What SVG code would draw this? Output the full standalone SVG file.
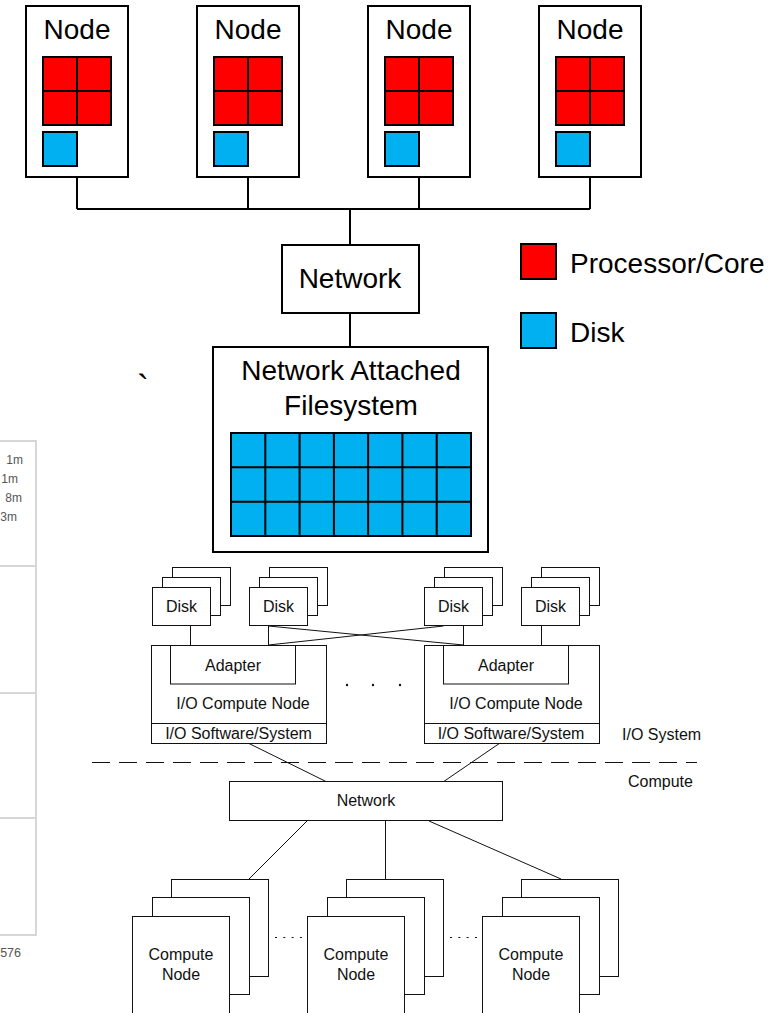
<svg xmlns="http://www.w3.org/2000/svg" width="768" height="1013" viewBox="0 0 768 1013">
  <style>
    .box { fill: #fff; stroke: #000; stroke-width: 2; }
    .red { fill: #ff0000; stroke: #000; stroke-width: 2; }
    .blue { fill: #00b0f0; stroke: #000; stroke-width: 2; }
    .grid { stroke: #000; stroke-width: 2; fill: none; }
    .wire { stroke: #000; stroke-width: 2; fill: none; }
    .tbox { fill: #fff; stroke: #111; stroke-width: 1; }
    .tline { stroke: #111; stroke-width: 1; fill: none; }
    .big { font-family: "Liberation Sans", Arial, sans-serif; font-size: 28px; fill: #000; }
    .small { font-family: "Liberation Sans", Arial, sans-serif; font-size: 16px; fill: #111; }
    .disk { font-family: "Liberation Sans", Arial, sans-serif; font-size: 16px; fill: #111; }
    .mid { text-anchor: middle; }
    .frame { stroke: #d6d6d6; stroke-width: 2; fill: none; }
    .frametxt { font-family: "Liberation Sans", Arial, sans-serif; font-size: 12px; fill: #555; text-anchor: end; }
  </style>

  <!-- cropped table fragment on the left edge -->
  <g id="table-fragment">
    <path class="frame" d="M0 441 H36 V935 H0 M0 566 H36 M0 693 H36 M0 818 H36"/>
    <text class="frametxt" x="23" y="464">1m</text>
    <text class="frametxt" x="18" y="483">1m</text>
    <text class="frametxt" x="22" y="502">8m</text>
    <text class="frametxt" x="17" y="521">3m</text>
    <text class="frametxt" x="21" y="957" style="font-size:12.5px">576</text>
  </g>

  <!-- upper cluster: connectors -->
  <g id="cluster-connectors">
    <path class="wire" d="M77 177 V209 M248 177 V209 M419 177 V209 M590 177 V209 M77 209 H590 M350 209 V245 M350 313 V347"/>
  </g>

  <!-- compute nodes of the cluster -->
  <g id="node-1">
    <rect class="box" x="26" y="6" width="102" height="171"/>
    <text class="big mid" x="77" y="39">Node</text>
    <rect class="red" x="43" y="57" width="68" height="68"/>
    <path class="grid" d="M77 57 V125 M43 91 H111"/>
    <rect class="blue" x="43" y="132" width="34" height="34"/>
  </g>
  <g id="node-2">
    <rect class="box" x="197" y="6" width="102" height="171"/>
    <text class="big mid" x="248" y="39">Node</text>
    <rect class="red" x="214" y="57" width="68" height="68"/>
    <path class="grid" d="M248 57 V125 M214 91 H282"/>
    <rect class="blue" x="214" y="132" width="34" height="34"/>
  </g>
  <g id="node-3">
    <rect class="box" x="368" y="6" width="102" height="171"/>
    <text class="big mid" x="419" y="39">Node</text>
    <rect class="red" x="385" y="57" width="68" height="68"/>
    <path class="grid" d="M419 57 V125 M385 91 H453"/>
    <rect class="blue" x="385" y="132" width="34" height="34"/>
  </g>
  <g id="node-4">
    <rect class="box" x="539" y="6" width="102" height="171"/>
    <text class="big mid" x="590" y="39">Node</text>
    <rect class="red" x="556" y="57" width="68" height="68"/>
    <path class="grid" d="M590 57 V125 M556 91 H624"/>
    <rect class="blue" x="556" y="132" width="34" height="34"/>
  </g>

  <g id="network-top">
    <rect class="box" x="282" y="245" width="137" height="68"/>
    <text class="big mid" x="350" y="288">Network</text>
  </g>

  <g id="nas">
    <rect class="box" x="213" y="347" width="275" height="205"/>
    <text class="big mid" x="351" y="380">Network Attached</text>
    <text class="big mid" x="351" y="415">Filesystem</text>
    <rect class="blue" x="231" y="433" width="240" height="103"/>
    <path class="grid" d="M265.3 433 V536 M299.6 433 V536 M333.9 433 V536 M368.1 433 V536 M402.4 433 V536 M436.7 433 V536 M231 467.3 H471 M231 501.7 H471"/>
  </g>

  <g id="legend">
    <rect class="red" x="521" y="244" width="35" height="35"/>
    <text class="big" x="570" y="273">Processor/Core</text>
    <rect class="blue" x="521" y="313" width="35" height="35"/>
    <text class="big" x="570" y="342">Disk</text>
  </g>

  <text class="big" x="137" y="401" style="font-size:36px">`</text>

  <!-- lower I/O architecture: connectors -->
  <g id="io-connectors">
    <path class="tline" d="M190.5 626 V645 M268.5 626 V645 M463.5 626 V645 M541.5 626 V645"/>
    <path class="tline" d="M268.5 626 L463.5 645 M268.5 645 L443.5 626"/>
    <path class="tline" d="M248 743 L327 782 M500 743 L443 782"/>
    <path class="tline" d="M307 821 L249 879 M385.5 821 V879 M429 821 L561 879"/>
    <path class="tline" d="M92 762.5 H697" stroke-dasharray="18 9"/>
    <path class="tline" d="M275 937.5 H305 M450 937.5 H480" stroke-width="2.2" stroke-dasharray="2 6.3"/>
    <circle cx="347" cy="685" r="1.2" fill="#111"/>
    <circle cx="373" cy="685" r="1.2" fill="#111"/>
    <circle cx="400" cy="685" r="1.2" fill="#111"/>
  </g>

  <!-- disk stacks -->
  <g id="disk-stack-1">
    <rect class="tbox" x="172.5" y="567.5" width="58" height="38"/>
    <rect class="tbox" x="162.5" y="577.5" width="58" height="38"/>
    <rect class="tbox" x="152.5" y="587.5" width="58" height="38"/>
    <text class="disk mid" x="181.5" y="612">Disk</text>
  </g>
  <g id="disk-stack-2">
    <rect class="tbox" x="269.5" y="567.5" width="58" height="38"/>
    <rect class="tbox" x="259.5" y="577.5" width="58" height="38"/>
    <rect class="tbox" x="249.5" y="587.5" width="58" height="38"/>
    <text class="disk mid" x="278.5" y="612">Disk</text>
  </g>
  <g id="disk-stack-3">
    <rect class="tbox" x="444.5" y="567.5" width="58" height="38"/>
    <rect class="tbox" x="434.5" y="577.5" width="58" height="38"/>
    <rect class="tbox" x="424.5" y="587.5" width="58" height="38"/>
    <text class="disk mid" x="453.5" y="612">Disk</text>
  </g>
  <g id="disk-stack-4">
    <rect class="tbox" x="541.5" y="567.5" width="58" height="38"/>
    <rect class="tbox" x="531.5" y="577.5" width="58" height="38"/>
    <rect class="tbox" x="521.5" y="587.5" width="58" height="38"/>
    <text class="disk mid" x="550.5" y="612">Disk</text>
  </g>

  <!-- I/O compute nodes -->
  <g id="io-node-1">
    <rect class="tbox" x="151.5" y="645.5" width="175" height="98"/>
    <rect class="tbox" x="170.5" y="645.5" width="125" height="38.5"/>
    <path class="tline" d="M151.5 723.5 H326.5"/>
    <text class="small mid" x="233" y="671">Adapter</text>
    <text class="small mid" x="243" y="709">I/O Compute Node</text>
    <text class="small mid" x="238.5" y="739">I/O Software/System</text>
  </g>
  <g id="io-node-2">
    <rect class="tbox" x="424.5" y="645.5" width="175" height="98"/>
    <rect class="tbox" x="443.5" y="645.5" width="125" height="38.5"/>
    <path class="tline" d="M424.5 723.5 H599.5"/>
    <text class="small mid" x="506" y="671">Adapter</text>
    <text class="small mid" x="516" y="709">I/O Compute Node</text>
    <text class="small mid" x="511" y="739">I/O Software/System</text>
  </g>

  <g id="zone-labels">
    <text class="small" x="622" y="740">I/O System</text>
    <text class="small" x="628" y="787">Compute</text>
  </g>

  <g id="network-bottom">
    <rect class="tbox" x="229.5" y="781.5" width="273" height="39"/>
    <text class="small mid" x="366" y="806">Network</text>
  </g>

  <!-- compute node stacks -->
  <g id="compute-stack-1">
    <rect class="tbox" x="171.5" y="879.5" width="97" height="97"/>
    <rect class="tbox" x="152.5" y="897.5" width="97" height="97"/>
    <rect class="tbox" x="132.5" y="916.5" width="97" height="97"/>
    <text class="small mid" x="181" y="960">Compute</text>
    <text class="small mid" x="181" y="980">Node</text>
  </g>
  <g id="compute-stack-2">
    <rect class="tbox" x="346.5" y="879.5" width="97" height="97"/>
    <rect class="tbox" x="327.5" y="897.5" width="97" height="97"/>
    <rect class="tbox" x="307.5" y="916.5" width="97" height="97"/>
    <text class="small mid" x="356" y="960">Compute</text>
    <text class="small mid" x="356" y="980">Node</text>
  </g>
  <g id="compute-stack-3">
    <rect class="tbox" x="521.5" y="879.5" width="97" height="97"/>
    <rect class="tbox" x="502.5" y="897.5" width="97" height="97"/>
    <rect class="tbox" x="482.5" y="916.5" width="97" height="97"/>
    <text class="small mid" x="531" y="960">Compute</text>
    <text class="small mid" x="531" y="980">Node</text>
  </g>
</svg>
